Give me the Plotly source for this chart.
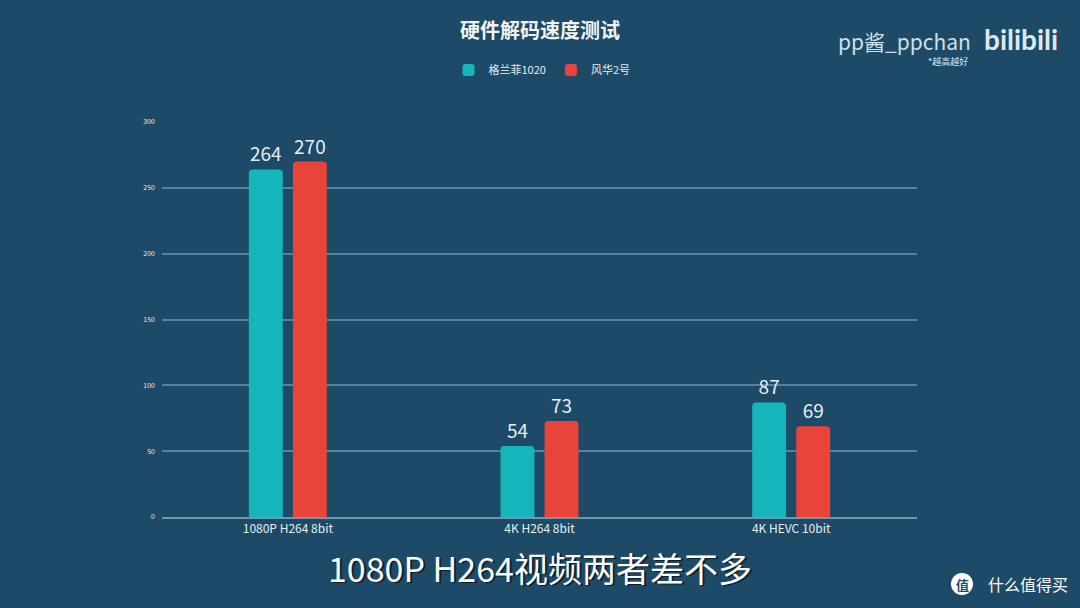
import plotly.graph_objects as go

categories = ["1080P H264 8bit", "4K H264 8bit", "4K HEVC 10bit"]
series_a_name = "格兰菲1020"
series_a = [264, 54, 87]
series_b_name = "风华2号"
series_b = [270, 73, 69]
y_ticks = [0, 50, 100, 150, 200, 250, 300]

BG = "#1d4a66"
TEAL = "#16b4bb"
RED = "#e8443a"
TXT = "#e6eef3"

L, R, T, B = 162, 163, 122, 91
PW, PH = 1080 - L - R, 608 - T - B


def px(x):
    return (x - L) / PW


def py(y):
    return (608 - B - y) / PH


fig = go.Figure()
for name, vals, col in [(series_a_name, series_a, TEAL), (series_b_name, series_b, RED)]:
    fig.add_trace(go.Bar(
        x=categories, y=vals, name=name,
        marker=dict(color=col, line=dict(width=0), cornerradius=4),
        text=[str(v) for v in vals], textposition="outside",
        textfont=dict(size=19, color=TXT, family="Noto Sans CJK SC"),
        cliponaxis=False,
    ))

fig.update_layout(
    width=1080, height=608,
    paper_bgcolor=BG, plot_bgcolor=BG,
    margin=dict(l=L, r=R, t=T, b=B),
    barmode="group", bargap=0.65, bargroupgap=0.23,
    font=dict(family="Noto Sans CJK SC", color=TXT),
    title=dict(text="<b>硬件解码速度测试</b>", x=0.5, xanchor="center", y=1 - 31 / 608, yanchor="middle",
               font=dict(size=20, color="#f2f5f7", family="Noto Sans CJK SC")),
    legend=dict(orientation="h", x=px(542), xanchor="center", y=py(70), yanchor="middle",
                font=dict(size=11, color=TXT), bgcolor="rgba(0,0,0,0)",
                itemsizing="constant", itemwidth=30, tracegroupgap=0),
    showlegend=True,
    xaxis=dict(showgrid=False, showline=True, linecolor="#6f97b3", linewidth=1.5,
               ticks="", tickfont=dict(size=12, color=TXT), fixedrange=True),
    yaxis=dict(range=[0, 300], tickvals=y_ticks, showgrid=True, gridcolor="#55829f",
               gridwidth=1.5, zeroline=False, showline=False, ticks="",
               tickfont=dict(size=7, color=TXT), ticklabelstandoff=6),
)

sub = "1080P H264视频两者差不多"
ann = [
    dict(text="pp酱_ppchan", x=px(973), y=py(41), xanchor="right", yanchor="middle",
         font=dict(size=21, color="#cfe0ea", family="Noto Sans CJK SC")),
    dict(text="<b>bilibili</b>", x=px(1060), y=py(39), xanchor="right", yanchor="middle",
         font=dict(size=28, color="#dde9f0", family="Lato")),
    dict(text="*越高越好", x=px(970), y=py(61), xanchor="right", yanchor="middle",
         font=dict(size=9, color="#dde9f0", family="Noto Sans CJK SC")),
    dict(text=sub, x=px(541.5), y=py(568.5), xanchor="center", yanchor="middle",
         font=dict(size=34, color="#0d1f2c", family="Noto Sans CJK SC")),
    dict(text=sub, x=px(540), y=py(567), xanchor="center", yanchor="middle",
         font=dict(size=34, color="#ffffff", family="Noto Sans CJK SC")),
    dict(text="什么值得买", x=px(1070), y=py(584), xanchor="right", yanchor="middle",
         font=dict(size=16, color="#ffffff", family="Noto Sans CJK SC")),
    dict(text="<b>值</b>", x=px(962), y=py(584), xanchor="center", yanchor="middle",
         font=dict(size=13, color=BG, family="Noto Sans CJK SC")),
]
for a in ann:
    fig.add_annotation(xref="paper", yref="paper", showarrow=False, **a)

fig.add_shape(type="circle", xref="paper", yref="paper",
              x0=px(951), x1=px(973), y0=py(595), y1=py(573),
              fillcolor="#ffffff", line=dict(width=0), layer="below")

fig.write_html("out.html")
